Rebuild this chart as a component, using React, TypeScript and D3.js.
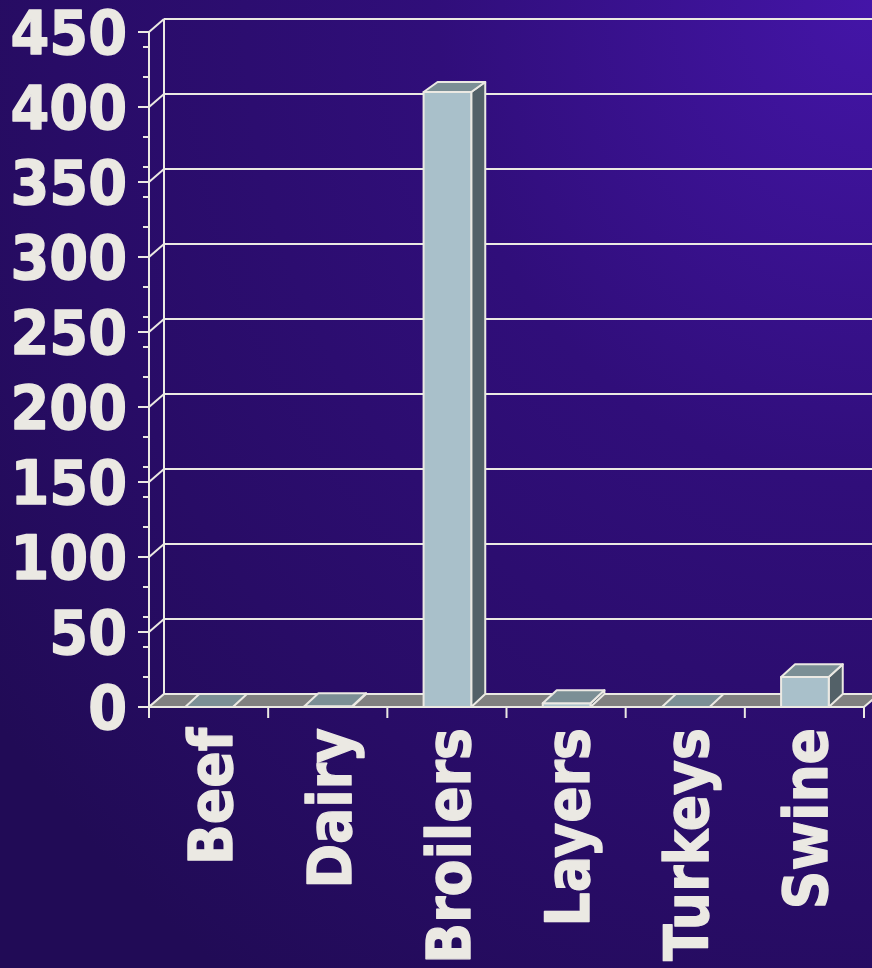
import React from "react";
import * as d3 from "d3";

const categories = ["Beef", "Dairy", "Broilers", "Layers", "Turkeys", "Swine"];
const values = [0, 0.5, 410, 2.5, 0, 20];
const yTickValues = [0, 50, 100, 150, 200, 250, 300, 350, 400, 450];
const yMinorStep = 20;

const W = 872;
const H = 968;
const FG = "#ebe9e3";
const FONT = "'DejaVu Sans', Verdana, sans-serif";

export default function App() {
  const x0 = 149;
  const x1 = 864;
  const yZero = 707;
  const yTop = 32;
  const depthX = 15;
  const depthY = -13;

  const x = d3.scaleBand<string>().domain(categories).range([x0, x1]).padding(0);
  const y = d3.scaleLinear().domain([0, 450]).range([yZero, yTop]);

  const minorTicks = d3.range(yMinorStep, 450, yMinorStep).filter((v) => v % 50 !== 0);

  const barFrac = 0.4;
  const bw = x.bandwidth() * barFrac;

  const barDepthY = (yt: number) => -13 + (3 * (yZero - yt)) / (yZero - 93);
  const barDepthX = 14;

  const floorPts = [
    [x0, yZero],
    [x1, yZero],
    [x1 + depthX, yZero + depthY],
    [x0 + depthX, yZero + depthY],
  ];
  const pts = (p: number[][]) => p.map((q) => q.join(",")).join(" ");

  return (
    <svg
      width={W}
      height={H}
      style={{ position: "fixed", left: 0, top: 0, display: "block" }}
      xmlns="http://www.w3.org/2000/svg"
    >
      <defs>
        <radialGradient id="bg" cx="100%" cy="0%" r="125%" fx="100%" fy="0%">
          <stop offset="0" stopColor="#4415a8" />
          <stop offset="0.4" stopColor="#300e7a" />
          <stop offset="0.75" stopColor="#280c66" />
          <stop offset="1" stopColor="#210b56" />
        </radialGradient>
      </defs>
      <rect x={0} y={0} width={W} height={H} fill="url(#bg)" />

      {/* back wall gridlines */}
      {yTickValues.map((v) => (
        <g key={"g" + v}>
          {v > 0 && (
            <line
              x1={x0 + depthX}
              x2={W + 20}
              y1={y(v) + depthY}
              y2={y(v) + depthY}
              stroke={FG}
              strokeWidth={2}
            />
          )}
          <line
            x1={x0}
            y1={y(v)}
            x2={x0 + depthX}
            y2={y(v) + depthY}
            stroke={FG}
            strokeWidth={2}
          />
        </g>
      ))}
      <line
        x1={x0 + depthX}
        x2={x0 + depthX}
        y1={y(450) + depthY}
        y2={yZero + depthY}
        stroke={FG}
        strokeWidth={2}
      />

      {/* floor */}
      <polygon points={pts(floorPts)} fill="#808080" stroke={FG} strokeWidth={2} strokeLinejoin="round" />

      {/* bars */}
      {categories.map((c, i) => {
        const cx = (x(c) as number) + x.bandwidth() / 2 + 0.5;
        const l = cx - bw / 2;
        const r = cx + bw / 2;
        const yt = y(values[i]);
        const dy = barDepthY(yt);
        const dx = barDepthX;
        const top = [
          [l, yt],
          [r, yt],
          [r + dx, yt + dy],
          [l + dx, yt + dy],
        ];
        const side = [
          [r, yt],
          [r, yZero],
          [r + dx, yZero + depthY],
          [r + dx, yt + dy],
        ];
        const h = yZero - yt;
        return (
          <g key={c} stroke={FG} strokeWidth={2} strokeLinejoin="round">
            {h > 0.3 && <polygon points={pts(side)} fill="#536168" />}
            {h > 0.3 && <rect x={l} y={yt} width={bw} height={h} fill="#a9c0ca" />}
            <polygon points={pts(top)} fill="#7b8f95" />
          </g>
        );
      })}

      {/* front y axis */}
      <line x1={x0} x2={x0} y1={y(450)} y2={yZero + 11} stroke={FG} strokeWidth={2} />
      <line x1={x0 - 11} x2={x1} y1={yZero} y2={yZero} stroke={FG} strokeWidth={2} />
      {yTickValues.map((v) => (
        <line key={"t" + v} x1={x0 - 11} x2={x0} y1={y(v)} y2={y(v)} stroke={FG} strokeWidth={2} />
      ))}
      {minorTicks.map((v) => (
        <line key={"m" + v} x1={x0 - 6} x2={x0} y1={y(v)} y2={y(v)} stroke={FG} strokeWidth={2} />
      ))}

      {/* category ticks */}
      {[...categories.map((c) => x(c) as number), x1].map((px, i) => (
        <line key={"c" + i} x1={px} x2={px} y1={yZero} y2={yZero + 11} stroke={FG} strokeWidth={2} />
      ))}

      {/* y labels */}
      {yTickValues.map((v) => (
        <text
          key={"yl" + v}
          transform={`translate(127,${y(v) + 22}) scale(0.915,1)`}
          textAnchor="end"
          fontFamily={FONT}
          fontWeight="bold"
          fontSize={61}
          fill={FG}
          stroke={FG}
          strokeWidth={1.4}
          strokeLinejoin="round"
        >
          {v}
        </text>
      ))}

      {/* x labels */}
      {categories.map((c) => {
        const cx = (x(c) as number) + x.bandwidth() / 2;
        return (
          <text
            key={"xl" + c}
            transform={`translate(${cx + 23},728) rotate(-90) scale(0.88,1)`}
            textAnchor="end"
            fontFamily={FONT}
            fontWeight="bold"
            fontSize={61}
            fill={FG}
            stroke={FG}
            strokeWidth={1.4}
            strokeLinejoin="round"
          >
            {c}
          </text>
        );
      })}
    </svg>
  );
}
